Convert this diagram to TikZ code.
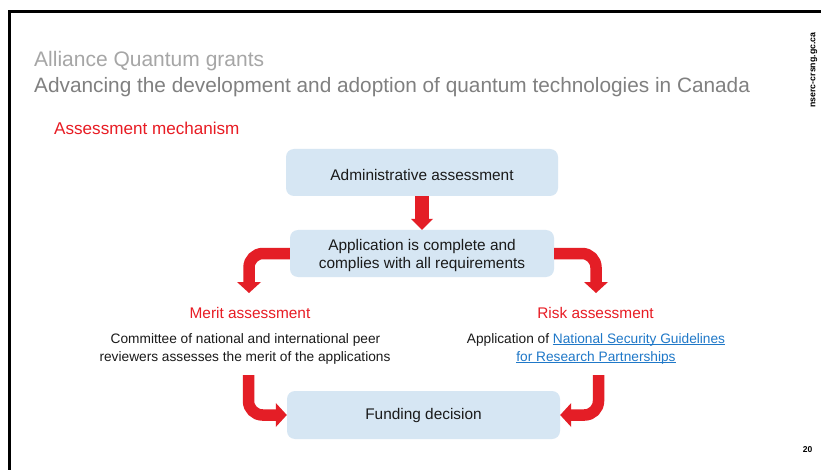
\documentclass[tikz,border=0pt]{standalone}
\usepackage{fontspec}
\setmainfont{Liberation Sans}
\usetikzlibrary{arrows.meta}
\definecolor{boxblue}{RGB}{214,230,243}
\definecolor{arrred}{RGB}{228,30,38}
\definecolor{titred}{RGB}{232,28,36}
\definecolor{linkblue}{RGB}{31,120,200}
\definecolor{grayone}{RGB}{166,166,166}
\definecolor{graytwo}{RGB}{128,128,128}
\definecolor{txt}{RGB}{26,26,26}
\newcommand\myul[1]{\setbox0=\hbox{#1}\rlap{\rule[-1.6pt]{\wd0}{0.8pt}}\box0}
\begin{document}
\begin{tikzpicture}[x=1pt,y=-1pt,
  flowbox/.style={fill=boxblue, rounded corners=8pt, inner sep=0pt, text=txt,
    font=\fontsize{15.4}{18}\selectfont, align=center},
  redarrow/.style={draw=arrred, line width=11.5pt, rounded corners=14pt,
    -{Triangle[width=24pt,length=11pt,line width=0pt]}},
  lbl/.style={inner sep=0pt, anchor=base},
  desc/.style={lbl, text=txt, font=\fontsize{13.7}{18}\selectfont},
  subtitle/.style={lbl, text=titred, font=\fontsize{15.4}{18}\selectfont}]
\useasboundingbox (0,0) rectangle (821,470);
\fill[white] (0,0) rectangle (821,470);
\draw[line width=3pt] (9.5,470) -- (9.5,11.5) -- (821,11.5);

% titles
\node[inner sep=0pt, anchor=base west, text=grayone, font=\fontsize{21}{24}\selectfont] (t1) at (34,66.5) {Alliance Quantum grants};
\node[inner sep=0pt, anchor=base west, text=graytwo, font=\fontsize{20.8}{24}\selectfont] (t2) at (34,92.5) {Advancing the development and adoption of quantum technologies in Canada};
\node[inner sep=0pt, anchor=base west, text=titred, font=\fontsize{17.1}{20}\selectfont] (t3) at (54,134.5) {Assessment mechanism};
\node[inner sep=0pt, rotate=90, font=\bfseries\fontsize{8.8}{10}\selectfont] (web) at (814,70) {nserc-crsng.gc.ca};
\node[inner sep=0pt, font=\bfseries\fontsize{8.5}{10}\selectfont] (page) at (807.5,450) {20};

% boxes
\node[flowbox, minimum width=272pt, minimum height=47pt] (admin) at (422,172.5) {\rule{0pt}{16pt}Administrative assessment};
\node[flowbox, minimum width=264pt, minimum height=47pt] (app) at (422,253.5) {\rule{0pt}{15pt}Application is complete and\\complies with all requirements};
\node[flowbox, minimum width=273pt, minimum height=48pt] (funding) at (423.5,415) {\rule{0pt}{13pt}Funding decision};

% arrow ends
\coordinate (mtop) at (249,293);
\coordinate (rtop) at (596,293);
\coordinate (mbot) at (248.5,375);
\coordinate (rbot) at (598.5,375);

% arrows
\draw[draw=arrred, line width=14pt, -{Triangle[width=22pt,length=11pt,line width=0pt]}] (admin.south) -- (app.north);
\draw[redarrow] (app.west) -| (mtop);
\draw[redarrow] (app.east) -| (rtop);
\draw[redarrow] (mbot) |- (funding.west);
\draw[redarrow] (rbot) |- (funding.east);

% texts
\node[subtitle] (merit) at (250,318) {Merit assessment};
\node[desc] (m1) at (245.5,343) {Committee of national and international peer};
\node[desc] (m2) at (245,361) {reviewers assesses the merit of the applications};
\node[subtitle] (risk) at (595.5,318) {Risk assessment};
\node[desc] (r1) at (596,343) {Application of \textcolor{linkblue}{\myul{National Security Guidelines}}};
\node[desc] (r2) at (596,361) {\textcolor{linkblue}{\myul{for Research Partnerships}}};
\end{tikzpicture}
\end{document}
